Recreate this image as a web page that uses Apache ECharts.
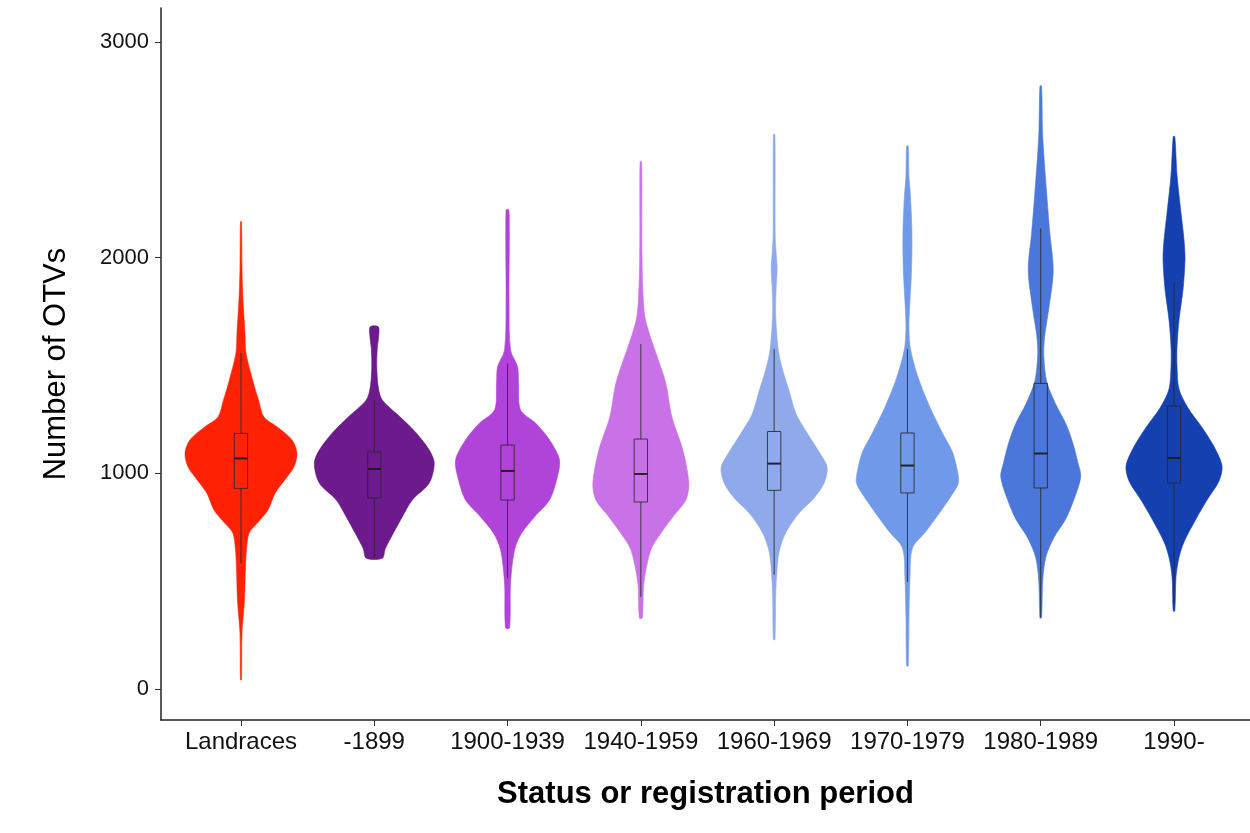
<!DOCTYPE html>
<html>
<head>
<meta charset="utf-8">
<script src="https://cdn.jsdelivr.net/npm/echarts@6/dist/echarts.min.js"></script>
<style>
html,body{margin:0;padding:0;background:#fff;}
#chart{width:1250px;height:833px;}
</style>
</head>
<body>
<div id="chart"></div>
<script>
// Categories and colours
const categories = ['Landraces', '-1899', '1900-1939', '1940-1959', '1960-1969', '1970-1979', '1980-1989', '1990-'];
const fillColors = ['#FF2205', '#6C1A8C', '#B044D8', '#C972E8', '#8FA9EA', '#7099EA', '#4A77D9', '#1541B0'];

// Violin profiles: [number of OTVs, relative half-width (60 = widest)]
const vLandraces = [[2167,0.5],[1950,1],[1804,2],[1650,4],[1558,5],[1418,12.5],[1340,17.5],[1261,23],[1216,36],[1155,51],[1094,56],[1030,53],[983,46],[907,34],[830,27],[768,16],[722,8],[645,5.5],[567,4.5],[413,3.5],[260,1],[42,0.5]];
const v1899 = [[1680,4],[1640,4.5],[1580,3],[1494,2.5],[1400,4],[1340,8],[1261,26],[1187,42],[1108,55],[1047,60],[955,55],[876,38],[798,28],[722,19],[650,11],[606,8]];
const v1900 = [[2221,1.5],[1800,1.5],[1572,3],[1494,10],[1419,11],[1294,13],[1233,28],[1155,42],[1062,52],[969,49],[876,42],[798,27],[722,14],[645,7],[491,3],[283,2]];
const v1940 = [[2445,0.8],[2143,1],[2000,1.2],[1850,2],[1726,4],[1640,9],[1572,14],[1418,25],[1262,31],[1108,42],[955,48],[876,45],[798,32],[722,20],[645,10],[491,3],[329,1.5]];
const v1960 = [[2571,0.8],[2110,1],[2022,2],[1950,3],[1860,2],[1739,1.5],[1577,4],[1488,8],[1382,15],[1275,22],[1187,33],[1099,45],[1029,53],[955,50],[886,40],[816,25],[728,12],[637,5],[530,2.5],[424,1.5],[229,0.8]];
const v1970 = [[2518,0.8],[2376,1.5],[2287,3],[2110,4.5],[1933,4],[1755,2],[1666,1.5],[1577,3],[1454,10],[1312,22],[1187,35],[1099,45],[1011,50],[955,51],[904,45],[816,32],[728,18],[654,5],[515,2.5],[335,1.5],[107,0.8]];
const v1980 = [[2796,0.8],[2562,2],[2295,6],[2119,9],[1940,12.5],[1762,8],[1639,4],[1550,3],[1426,6],[1320,15],[1231,25],[1142,32],[1053,37],[983,40],[876,33],[788,25],[700,13],[610,5],[503,2],[329,0.8]];
const v1990 = [[2562,0.8],[2384,3],[2207,7],[2082,10],[1994,11],[1852,9],[1711,5],[1586,3],[1498,3],[1391,5],[1303,14],[1213,28],[1124,40],[1035,48],[964,45],[876,33],[788,22],[682,10],[610,5],[521,2],[361,0.8]];
const violinProfiles = [vLandraces, v1899, v1900, v1940, v1960, v1970, v1980, v1990];

// Box plot statistics
const whiskerLow  = [583, 606, 514, 427, 530, 496, 333, 400];
const q1          = [930, 886, 876, 867, 921, 909, 932, 955];
const median      = [1069, 1020, 1011, 997, 1045, 1036, 1092, 1071];
const q3          = [1185, 1099, 1131, 1159, 1194, 1187, 1417, 1312];
const whiskerHigh = [1558, 1340, 1510, 1600, 1577, 1577, 2136, 1887];

// Axis ticks
const yTicks = [0, 1000, 2000, 3000];
const xTicks = [1, 2, 3, 4, 5, 6, 7, 8];

const FONT = "'Liberation Sans', Arial, sans-serif";
const MAX_HALF = 0.45;   // widest violin half-width in category units
const BOX_HALF = 0.05;

const chart = echarts.init(document.getElementById('chart'), null, {renderer: 'canvas'});

const idx = categories.map((c, i) => [i]);

function violinItem(params, api) {
  const i = api.value(0);
  const prof = violinProfiles[i];
  const cx = i + 1;
  const left = prof.map(p => api.coord([cx - p[1] / 60 * MAX_HALF, p[0]]));
  const right = prof.slice().reverse().map(p => api.coord([cx + p[1] / 60 * MAX_HALF, p[0]]));
  return {
    type: 'polygon',
    shape: {points: left.concat(right), smooth: 0.3},
    style: {fill: fillColors[i], stroke: fillColors[i], lineWidth: 0.6}
  };
}

function boxItem(params, api) {
  const i = api.value(0);
  const cx = i + 1;
  const lineCol = 'rgba(40,40,40,0.85)';
  const wTop = api.coord([cx, whiskerHigh[i]]);
  const qTop = api.coord([cx, q3[i]]);
  const qBot = api.coord([cx, q1[i]]);
  const wBot = api.coord([cx, whiskerLow[i]]);
  const bl = api.coord([cx - BOX_HALF, q3[i]]);
  const br = api.coord([cx + BOX_HALF, q1[i]]);
  const ml = api.coord([cx - BOX_HALF, median[i]]);
  const mr = api.coord([cx + BOX_HALF, median[i]]);
  return {
    type: 'group',
    children: [
      {type: 'line', shape: {x1: wTop[0], y1: wTop[1], x2: qTop[0], y2: qTop[1]}, style: {stroke: lineCol, lineWidth: 1}},
      {type: 'line', shape: {x1: qBot[0], y1: qBot[1], x2: wBot[0], y2: wBot[1]}, style: {stroke: lineCol, lineWidth: 1}},
      {type: 'rect', shape: {x: bl[0], y: bl[1], width: br[0] - bl[0], height: br[1] - bl[1]}, style: {fill: 'none', stroke: lineCol, lineWidth: 1}},
      {type: 'line', shape: {x1: ml[0], y1: ml[1], x2: mr[0], y2: mr[1]}, style: {stroke: 'rgba(30,30,30,0.95)', lineWidth: 2}}
    ]
  };
}

const option = {
  backgroundColor: '#ffffff',
  animation: false,
  grid: {left: 161, right: 0, top: 8, bottom: 113, containLabel: false},
  xAxis: {
    type: 'value',
    min: 0.4,
    max: 8.57,
    name: 'Status or registration period',
    nameLocation: 'middle',
    nameGap: 59,
    nameTextStyle: {fontFamily: FONT, fontSize: 31, fontWeight: 'bold', color: '#000'},
    axisLine: {show: true, onZero: false, lineStyle: {color: '#222', width: 1.5}},
    axisTick: {show: true, length: 6, customValues: xTicks, lineStyle: {color: '#333', width: 1}},
    axisLabel: {
      customValues: xTicks, margin: 10, fontFamily: FONT, fontSize: 24, color: '#111',
      formatter: v => categories[Math.round(v) - 1] || ''
    },
    splitLine: {show: false}
  },
  yAxis: {
    type: 'value',
    min: -144,
    max: 3158,
    name: 'Number of OTVs',
    nameLocation: 'middle',
    nameGap: 89,
    nameTextStyle: {fontFamily: FONT, fontSize: 31, color: '#000'},
    axisLine: {show: true, onZero: false, lineStyle: {color: '#222', width: 1.5}},
    axisTick: {show: true, length: 6, customValues: yTicks, lineStyle: {color: '#333', width: 1}},
    axisLabel: {customValues: yTicks, margin: 12, fontFamily: FONT, fontSize: 22, color: '#111',
      formatter: v => String(Math.round(v))},
    splitLine: {show: false}
  },
  series: [
    {type: 'custom', name: 'violin', data: idx, renderItem: violinItem, clip: true, z: 2},
    {type: 'custom', name: 'box', data: idx, renderItem: boxItem, clip: true, z: 3}
  ]
};
chart.setOption(option);
</script>
</body>
</html>
